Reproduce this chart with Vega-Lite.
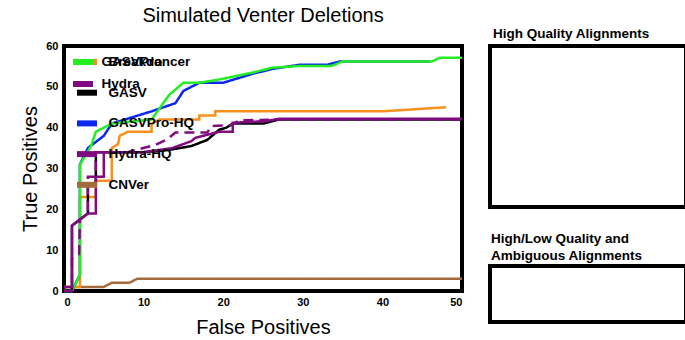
{
  "$schema": "https://vega.github.io/schema/vega-lite/v6.json",
  "padding": {"left": 18, "top": 4, "right": 4, "bottom": 4},
  "spacing": 19,
  "config": {
    "font": "Liberation Sans",
    "title": {"font": "Liberation Sans", "color": "black"}
  },
  "hconcat": [
    {
      "width": 398,
      "height": 245,
      "view": {"stroke": "black", "strokeWidth": 4},
      "title": {"text": "Simulated Venter Deletions", "fontSize": 20, "fontWeight": "normal", "offset": 14},
      "data": {"values": [
        {"s": "CNVer", "x": 0, "y": 1}, {"s": "CNVer", "x": 5, "y": 1}, {"s": "CNVer", "x": 6, "y": 2}, {"s": "CNVer", "x": 8.2, "y": 2}, {"s": "CNVer", "x": 9.2, "y": 3}, {"s": "CNVer", "x": 50, "y": 3},
        {"s": "Breakdancer", "x": 0, "y": 1}, {"s": "Breakdancer", "x": 2, "y": 1}, {"s": "Breakdancer", "x": 2, "y": 23}, {"s": "Breakdancer", "x": 4, "y": 23}, {"s": "Breakdancer", "x": 4, "y": 27}, {"s": "Breakdancer", "x": 6, "y": 27}, {"s": "Breakdancer", "x": 6, "y": 35}, {"s": "Breakdancer", "x": 6.8, "y": 36}, {"s": "Breakdancer", "x": 7, "y": 38}, {"s": "Breakdancer", "x": 8, "y": 39}, {"s": "Breakdancer", "x": 11, "y": 39}, {"s": "Breakdancer", "x": 11, "y": 41}, {"s": "Breakdancer", "x": 12, "y": 42}, {"s": "Breakdancer", "x": 17, "y": 42}, {"s": "Breakdancer", "x": 17, "y": 43}, {"s": "Breakdancer", "x": 19, "y": 43}, {"s": "Breakdancer", "x": 19, "y": 44}, {"s": "Breakdancer", "x": 40, "y": 44}, {"s": "Breakdancer", "x": 48, "y": 45},
        {"s": "GASVPro-HQ", "x": 0, "y": 0}, {"s": "GASVPro-HQ", "x": 1, "y": 0}, {"s": "GASVPro-HQ", "x": 2, "y": 4}, {"s": "GASVPro-HQ", "x": 2, "y": 31}, {"s": "GASVPro-HQ", "x": 3, "y": 35}, {"s": "GASVPro-HQ", "x": 5, "y": 38}, {"s": "GASVPro-HQ", "x": 6, "y": 41}, {"s": "GASVPro-HQ", "x": 11, "y": 44}, {"s": "GASVPro-HQ", "x": 14, "y": 46}, {"s": "GASVPro-HQ", "x": 15, "y": 49}, {"s": "GASVPro-HQ", "x": 17, "y": 51}, {"s": "GASVPro-HQ", "x": 20, "y": 51}, {"s": "GASVPro-HQ", "x": 23.7, "y": 53.2}, {"s": "GASVPro-HQ", "x": 26.2, "y": 54.4}, {"s": "GASVPro-HQ", "x": 29.6, "y": 55.4}, {"s": "GASVPro-HQ", "x": 33, "y": 55.4}, {"s": "GASVPro-HQ", "x": 34.6, "y": 56.2}, {"s": "GASVPro-HQ", "x": 46, "y": 56.2},
        {"s": "GASVPro", "x": 0, "y": 0}, {"s": "GASVPro", "x": 1, "y": 0}, {"s": "GASVPro", "x": 2, "y": 4}, {"s": "GASVPro", "x": 2, "y": 31}, {"s": "GASVPro", "x": 3.4, "y": 35.5}, {"s": "GASVPro", "x": 4, "y": 39}, {"s": "GASVPro", "x": 6, "y": 41}, {"s": "GASVPro", "x": 11, "y": 42}, {"s": "GASVPro", "x": 13.2, "y": 48}, {"s": "GASVPro", "x": 15, "y": 51}, {"s": "GASVPro", "x": 17, "y": 51}, {"s": "GASVPro", "x": 19.5, "y": 51.8}, {"s": "GASVPro", "x": 23.7, "y": 53.5}, {"s": "GASVPro", "x": 26.2, "y": 54.7}, {"s": "GASVPro", "x": 29.6, "y": 55.1}, {"s": "GASVPro", "x": 33.6, "y": 55.1}, {"s": "GASVPro", "x": 35, "y": 56.2}, {"s": "GASVPro", "x": 46.2, "y": 56.2}, {"s": "GASVPro", "x": 47.2, "y": 57.1}, {"s": "GASVPro", "x": 50, "y": 57.1},
        {"s": "GASV", "x": 0, "y": 0}, {"s": "GASV", "x": 1, "y": 0}, {"s": "GASV", "x": 1, "y": 16}, {"s": "GASV", "x": 3, "y": 19}, {"s": "GASV", "x": 3, "y": 26}, {"s": "GASV", "x": 4, "y": 26}, {"s": "GASV", "x": 4, "y": 34}, {"s": "GASV", "x": 10, "y": 34}, {"s": "GASV", "x": 13, "y": 34.5}, {"s": "GASV", "x": 16, "y": 35.5}, {"s": "GASV", "x": 18, "y": 37}, {"s": "GASV", "x": 19.5, "y": 39.5}, {"s": "GASV", "x": 20.4, "y": 40}, {"s": "GASV", "x": 21.2, "y": 41}, {"s": "GASV", "x": 25, "y": 41}, {"s": "GASV", "x": 27, "y": 42}, {"s": "GASV", "x": 50, "y": 42},
        {"s": "Hydra-HQ", "x": 0, "y": 1}, {"s": "Hydra-HQ", "x": 1, "y": 1}, {"s": "Hydra-HQ", "x": 1, "y": 16}, {"s": "Hydra-HQ", "x": 3, "y": 19}, {"s": "Hydra-HQ", "x": 4, "y": 19}, {"s": "Hydra-HQ", "x": 4, "y": 28}, {"s": "Hydra-HQ", "x": 5, "y": 28}, {"s": "Hydra-HQ", "x": 5, "y": 34}, {"s": "Hydra-HQ", "x": 10, "y": 34}, {"s": "Hydra-HQ", "x": 13.6, "y": 35}, {"s": "Hydra-HQ", "x": 16, "y": 36.7}, {"s": "Hydra-HQ", "x": 16.5, "y": 37.5}, {"s": "Hydra-HQ", "x": 18.3, "y": 38.4}, {"s": "Hydra-HQ", "x": 19.5, "y": 39}, {"s": "Hydra-HQ", "x": 21.2, "y": 39}, {"s": "Hydra-HQ", "x": 21.2, "y": 41.2}, {"s": "Hydra-HQ", "x": 25.4, "y": 41.6}, {"s": "Hydra-HQ", "x": 27, "y": 42.2}, {"s": "Hydra-HQ", "x": 50, "y": 42.2},
        {"s": "Hydra", "x": 0, "y": 0}, {"s": "Hydra", "x": 1, "y": 0}, {"s": "Hydra", "x": 1, "y": 8}, {"s": "Hydra", "x": 1.9, "y": 9}, {"s": "Hydra", "x": 2, "y": 17.5}, {"s": "Hydra", "x": 3, "y": 19}, {"s": "Hydra", "x": 3, "y": 28}, {"s": "Hydra", "x": 4, "y": 28}, {"s": "Hydra", "x": 4, "y": 34}, {"s": "Hydra", "x": 8, "y": 34}, {"s": "Hydra", "x": 11.5, "y": 35.8}, {"s": "Hydra", "x": 13, "y": 37.2}, {"s": "Hydra", "x": 14, "y": 38.8}, {"s": "Hydra", "x": 18, "y": 38.8}, {"s": "Hydra", "x": 18.5, "y": 40.4}, {"s": "Hydra", "x": 21, "y": 40.6}, {"s": "Hydra", "x": 22, "y": 41.8}, {"s": "Hydra", "x": 27, "y": 42}, {"s": "Hydra", "x": 50, "y": 42}
      ]},
      "mark": {"type": "line", "strokeWidth": 2.5},
      "encoding": {
        "x": {"field": "x", "type": "quantitative", "scale": {"domain": [0, 50], "nice": false},
          "axis": {"title": "False Positives", "values": [0, 10, 20, 30, 40, 50], "grid": false, "domain": false, "ticks": false,
            "labelFont": "Liberation Sans", "labelFontWeight": "bold", "labelFontSize": 11, "labelColor": "black", "labelPadding": 5,
            "titleFont": "Liberation Sans", "titleFontSize": 20, "titleFontWeight": "normal", "titleColor": "black", "titlePadding": 10}},
        "y": {"field": "y", "type": "quantitative", "scale": {"domain": [0, 60], "nice": false},
          "axis": {"title": "True Positives", "values": [0, 10, 20, 30, 40, 50, 60], "grid": false, "domain": false, "ticks": false,
            "labelFont": "Liberation Sans", "labelFontWeight": "bold", "labelFontSize": 11, "labelColor": "black", "labelPadding": 6,
            "titleFont": "Liberation Sans", "titleFontSize": 20, "titleFontWeight": "normal", "titleColor": "black", "titlePadding": 5}},
        "color": {"field": "s", "type": "nominal",
          "scale": {"domain": ["Breakdancer", "GASV", "GASVPro-HQ", "Hydra-HQ", "CNVer", "GASVPro", "Hydra"],
                    "range": ["#f7901e", "#000000", "#0a28f0", "#800a80", "#a36b3c", "#22ee22", "#800a80"]},
          "legend": null},
        "strokeDash": {"field": "s", "type": "nominal",
          "scale": {"domain": ["Breakdancer", "GASV", "GASVPro-HQ", "Hydra-HQ", "CNVer", "GASVPro", "Hydra"],
                    "range": [[1, 0], [1, 0], [1, 0], [1, 0], [1, 0], [1, 0], [10, 6]]},
          "legend": null}
      }
    },
    {
      "spacing": 20,
      "vconcat": [
        {
          "width": 196,
          "height": 161,
          "view": {"stroke": "black", "strokeWidth": 4},
          "title": {"text": ["", "High Quality Alignments"], "anchor": "start", "fontSize": 13.5, "fontWeight": "bold", "offset": 6, "dx": 3, "lineHeight": 17.5},
          "data": {"values": [{"m": "Breakdancer"}, {"m": "GASV"}, {"m": "GASVPro-HQ"}, {"m": "Hydra-HQ"}, {"m": "CNVer"}]},
          "mark": {"type": "point", "opacity": 0, "filled": false},
          "encoding": {
            "stroke": {"field": "m", "type": "nominal",
              "scale": {"domain": ["Breakdancer", "GASV", "GASVPro-HQ", "Hydra-HQ", "CNVer"], "range": ["#f7901e", "#000000", "#0a28f0", "#800a80", "#a36b3c"]},
              "legend": {"title": null, "orient": "none", "legendX": 10, "legendY": 3, "padding": 0,
                "symbolType": "stroke", "symbolSize": 400, "symbolStrokeWidth": 6, "symbolOpacity": 1,
                "labelFont": "Liberation Sans", "labelFontSize": 13.5, "labelFontWeight": "bold", "labelColor": "black",
                "labelOffset": 8.5, "rowPadding": 5.7}}
          }
        },
        {
          "width": 196,
          "height": 56,
          "view": {"stroke": "black", "strokeWidth": 4},
          "title": {"text": ["High/Low Quality and", "Ambiguous Alignments"], "anchor": "start", "fontSize": 13.5, "fontWeight": "bold", "offset": 4, "dx": 1, "lineHeight": 17},
          "data": {"values": [{"m": "GASVPro"}, {"m": "Hydra"}]},
          "mark": {"type": "point", "opacity": 0, "filled": true},
          "encoding": {
            "fill": {"field": "m", "type": "nominal",
              "scale": {"domain": ["GASVPro", "Hydra"], "range": ["#22ee22", "#800a80"]},
              "legend": {"title": null, "orient": "none", "legendX": 9, "legendY": 6, "padding": 0,
                "symbolType": "M-1,-0.3L1,-0.3L1,0.3L-1,0.3Z", "symbolSize": 400, "symbolStrokeWidth": 0, "symbolOpacity": 1, "symbolFillColor": "#22ee22",
                "labelFont": "Liberation Sans", "labelFontSize": 13.5, "labelFontWeight": "bold", "labelColor": "black",
                "labelOffset": 8.5, "rowPadding": 5}}
          }
        }
      ]
    }
  ]
}
